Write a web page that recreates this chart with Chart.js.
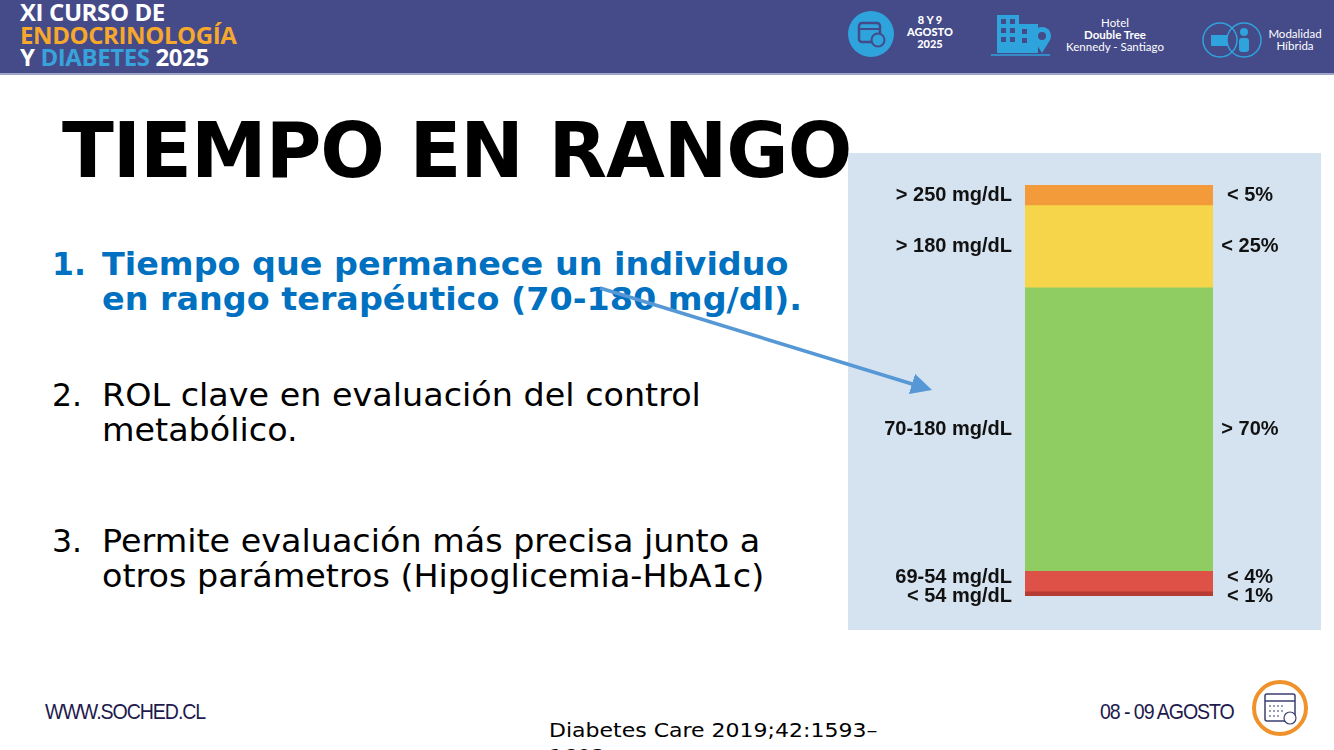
<!DOCTYPE html>
<html><head><meta charset="utf-8">
<script src="https://cdn.jsdelivr.net/npm/chart.js"></script>
<style>
html,body{margin:0;padding:0;}
body{width:1334px;height:750px;position:relative;overflow:hidden;background:#fff;font-family:"DejaVu Sans",sans-serif;}
#header{position:absolute;left:0;top:0;width:1334px;height:73px;background:#454a89;border-bottom:2px solid #9fa3c6;}
.hd{position:absolute;font-family:"Open Sans",sans-serif;font-weight:700;color:#fff;}
#brand{left:20px;top:1px;font-size:24px;line-height:22.5px;letter-spacing:-0.4px;}
.small{font-family:Lato,sans-serif;font-size:11px;line-height:12px;text-align:center;color:#fff;position:absolute;}
#title{position:absolute;left:62px;top:106px;font-size:76px;font-weight:700;color:#000;letter-spacing:-1px;z-index:5;white-space:nowrap;}
.item{position:absolute;left:52px;font-size:31.5px;line-height:35px;white-space:nowrap;}
.item .n{position:absolute;left:0;}
.item .t{position:absolute;left:50px;transform:scaleX(1.06);transform-origin:left;}
#panel{position:absolute;left:848px;top:153px;width:473px;height:477px;background:#d5e3f0;}
.ft{position:absolute;top:699px;font-family:"Liberation Sans Narrow","Liberation Sans",sans-serif;font-size:22px;color:#1e1a4e;letter-spacing:-1.2px;transform:scaleX(0.89);transform-origin:left;white-space:nowrap;}
#cite{position:absolute;left:549px;top:717px;font-size:20px;line-height:26px;color:#000;transform:scaleX(1.1);transform-origin:left;white-space:nowrap;}
svg{position:absolute;left:0;top:0;}
</style></head>
<body>
<div id="header"></div>
<div class="hd" id="brand">XI CURSO DE<br><span style="color:#f5a82b">ENDOCRINOLOGÍA</span><br>Y <span style="color:#38a3db">DIABETES</span> 2025</div>
<svg width="1334" height="75" style="z-index:2">
  <circle cx="871" cy="34" r="23" fill="#2ea3dc"/>
  <rect x="859" y="23" width="21" height="19" rx="3" fill="none" stroke="#454a89" stroke-width="2.5"/>
  <line x1="859" y1="29" x2="880" y2="29" stroke="#454a89" stroke-width="2"/>
  <circle cx="878" cy="40" r="6.5" fill="#2ea3dc" stroke="#454a89" stroke-width="2"/>
  <rect x="997" y="15" width="22" height="38" fill="#2ea3dc"/>
  <rect x="1018" y="24" width="20" height="29" fill="#2ea3dc"/>
  <g fill="#454a89"><rect x="1001" y="19" width="5" height="5"/><rect x="1010" y="19" width="5" height="5"/><rect x="1001" y="28" width="5" height="5"/><rect x="1010" y="28" width="5" height="5"/><rect x="1001" y="37" width="5" height="5"/><rect x="1010" y="37" width="5" height="5"/><rect x="1022" y="29" width="5" height="5"/><rect x="1022" y="38" width="5" height="5"/></g>
  <path d="M1042,53 L1034,40 A9,9 0 1 1 1050,40 Z" fill="#2ea3dc"/>
  <circle cx="1042" cy="36" r="4" fill="#454a89"/>
  <line x1="991" y1="55" x2="1050" y2="55" stroke="#2ea3dc" stroke-width="1.5"/>
  <circle cx="1220" cy="40" r="17" fill="none" stroke="#2ea3dc" stroke-width="1.5"/>
  <circle cx="1244" cy="40" r="17" fill="none" stroke="#2ea3dc" stroke-width="1.5"/>
  <rect x="1211" y="35" width="16" height="11" fill="#2ea3dc"/>
  <circle cx="1244" cy="32" r="4" fill="#2ea3dc"/>
  <rect x="1239" y="38" width="10" height="14" rx="3" fill="#2ea3dc"/>
</svg>
<div class="small" style="left:895px;top:14px;width:70px;font-weight:900;">8 Y 9<br>AGOSTO<br>2025</div>
<div class="small" style="left:1050px;top:17px;width:130px;font-size:11.5px;">Hotel<br><b>Double Tree</b><br>Kennedy - Santiago</div>
<div class="small" style="left:1260px;top:28px;width:70px;font-size:11.5px;">Modalidad<br>Híbrida</div>

<div id="title">TIEMPO EN RANGO</div>

<div class="item" style="top:247px;color:#0070c0;font-weight:700;"><span class="n">1.</span><span class="t">Tiempo que permanece un individuo<br>en rango terapéutico (70-180 mg/dl).</span></div>
<div class="item" style="top:378px;color:#000;"><span class="n">2.</span><span class="t">ROL clave en evaluación del control<br>metabólico.</span></div>
<div class="item" style="top:524px;color:#000;"><span class="n">3.</span><span class="t">Permite evaluación más precisa junto a<br>otros parámetros (Hipoglicemia-HbA1c)</span></div>

<div id="panel"><canvas id="c"></canvas></div>

<svg width="1334" height="750" style="z-index:6;pointer-events:none">
  <defs><marker id="ah" markerWidth="6" markerHeight="6" refX="3" refY="3" orient="auto" markerUnits="strokeWidth"><path d="M0,0 L6,3 L0,6 z" fill="#5697d6"/></marker></defs>
  <line x1="600" y1="288" x2="922" y2="387" stroke="#5697d6" stroke-width="3.5" marker-end="url(#ah)"/>
  <circle cx="1280" cy="708" r="26" fill="#fff" stroke="#f0922b" stroke-width="4"/>
  <rect x="1265" y="694" width="30" height="27" rx="2" fill="none" stroke="#3b3f6e" stroke-width="1.5"/>
  <line x1="1265" y1="701" x2="1295" y2="701" stroke="#3b3f6e" stroke-width="1.5"/>
  <g stroke="#3b3f6e" stroke-width="1.2"><line x1="1269" y1="706" x2="1285" y2="706" stroke-dasharray="2,2"/><line x1="1269" y1="711" x2="1283" y2="711" stroke-dasharray="2,2"/><line x1="1269" y1="716" x2="1281" y2="716" stroke-dasharray="2,2"/></g>
  <circle cx="1290" cy="718" r="6" fill="#fff" stroke="#3b3f6e" stroke-width="1.2"/>
</svg>

<div class="ft" style="left:45px;">WWW.SOCHED.CL</div>
<div class="ft" style="left:1100px;">08 - 09 AGOSTO</div>
<div id="cite">Diabetes Care 2019;42:1593–<br>1603</div>

<script>
// Data (top of bar first)
const rangeLabels = ['> 250 mg/dL', '> 180 mg/dL', '70-180 mg/dL', '69-54 mg/dL', '< 54 mg/dL'];
const targetLabels = ['< 5%', '< 25%', '> 70%', '< 4%', '< 1%'];
const percentValues = [5, 20, 69, 5, 1];
const segmentColors = ['#f39a3b', '#f7d54a', '#8fcd62', '#de5147', '#b53b33'];
const categories = ['TIR'];

// stacked bottom-up
const order = [4, 3, 2, 1, 0];
const datasets = order.map(i => ({
  label: rangeLabels[i],
  target: targetLabels[i],
  data: [percentValues[i]],
  backgroundColor: segmentColors[i],
  borderWidth: 0,
  barPercentage: 1,
  categoryPercentage: 1
}));

const nudge = {'69-54 mg/dL': -4, '< 54 mg/dL': 3};

const labelPlugin = {
  id: 'sideLabels',
  afterDatasetsDraw(chart) {
    const ctx = chart.ctx;
    ctx.save();
    ctx.font = 'bold 20px "Liberation Sans", Arial, sans-serif';
    ctx.fillStyle = '#111';
    ctx.textBaseline = 'middle';
    chart.data.datasets.forEach((ds, i) => {
      const el = chart.getDatasetMeta(i).data[0];
      const p = el.getProps(['x', 'y', 'base', 'width'], true);
      const cy = (p.y + p.base) / 2 + (nudge[ds.label] || 0);
      ctx.textAlign = 'right';
      ctx.fillText(ds.label, p.x - p.width / 2 - 13, cy);
      ctx.textAlign = 'center';
      ctx.fillText(ds.target, p.x + p.width / 2 + 37, cy);
    });
    ctx.restore();
  }
};

new Chart(document.getElementById('c'), {
  type: 'bar',
  data: { labels: categories, datasets },
  options: {
    responsive: true,
    maintainAspectRatio: false,
    animation: false,
    layout: { padding: { left: 177, right: 108, top: 32, bottom: 34 } },
    plugins: { legend: { display: false }, tooltip: { enabled: false } },
    scales: {
      x: { stacked: true, display: false },
      y: { stacked: true, display: false, min: 0, max: 100 }
    }
  },
  plugins: [labelPlugin]
});
</script>
</body></html>
